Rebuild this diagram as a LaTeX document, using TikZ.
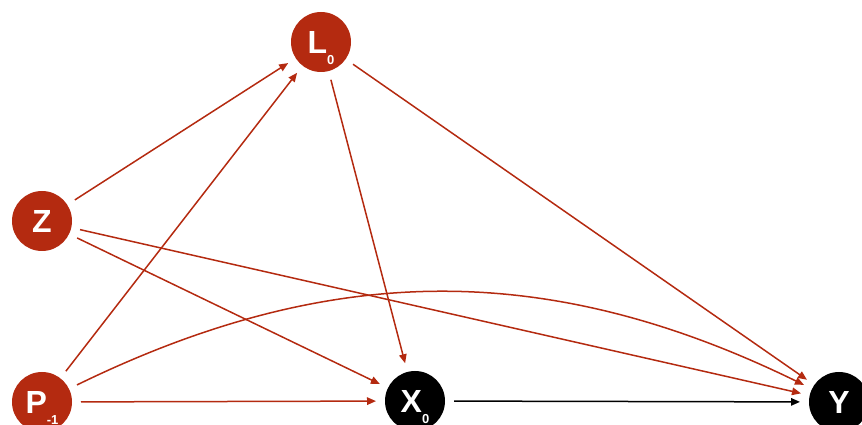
\documentclass[tikz,border=0pt]{standalone}
\usepackage{fontspec}
\setmainfont{Liberation Sans}
\usetikzlibrary{arrows.meta}
\definecolor{dagred}{RGB}{180,42,16}
\newcommand\dagsub[1]{\smash{\raisebox{-11pt}{\fontsize{13}{13}\selectfont #1}}}
\begin{document}
\begin{tikzpicture}[x=1pt,y=1pt,
  var/.style={circle,minimum size=60pt,inner sep=0pt,outer sep=9pt,text=white,font=\fontsize{32}{32}\selectfont\bfseries},
  redvar/.style={var,fill=dagred},
  blackvar/.style={var,fill=black},
  redarrow/.style={draw=dagred,line width=1.5pt,-{Triangle[length=9pt,width=7.5pt]}},
  blackarrow/.style={draw=black,line width=1.5pt,-{Triangle[length=9pt,width=7.5pt]}}]
\useasboundingbox (0,0) rectangle (862,425);
\node[redvar] (L) at (321,383) {L\dagsub{0}};
\node[redvar] (Z) at (42,204) {Z};
\node[redvar] (P) at (42,23) {P\dagsub{-1}};
\node[blackvar] (X) at (415,24) {X\dagsub{0}};
\node[blackvar] (Y) at (839,23) {Y};
\draw[redarrow] (Z) -- (L);
\draw[redarrow] (P) -- (L);
\draw[redarrow] (L) -- (X);
\draw[redarrow] (L) -- (Y);
\draw[redarrow] (Z) -- (X);
\draw[redarrow] (Z) -- (Y);
\draw[redarrow] (P) -- (X);
\draw[redarrow] (P) to[bend left=26] (Y);
\draw[blackarrow] (X) -- (Y);
\end{tikzpicture}
\end{document}
